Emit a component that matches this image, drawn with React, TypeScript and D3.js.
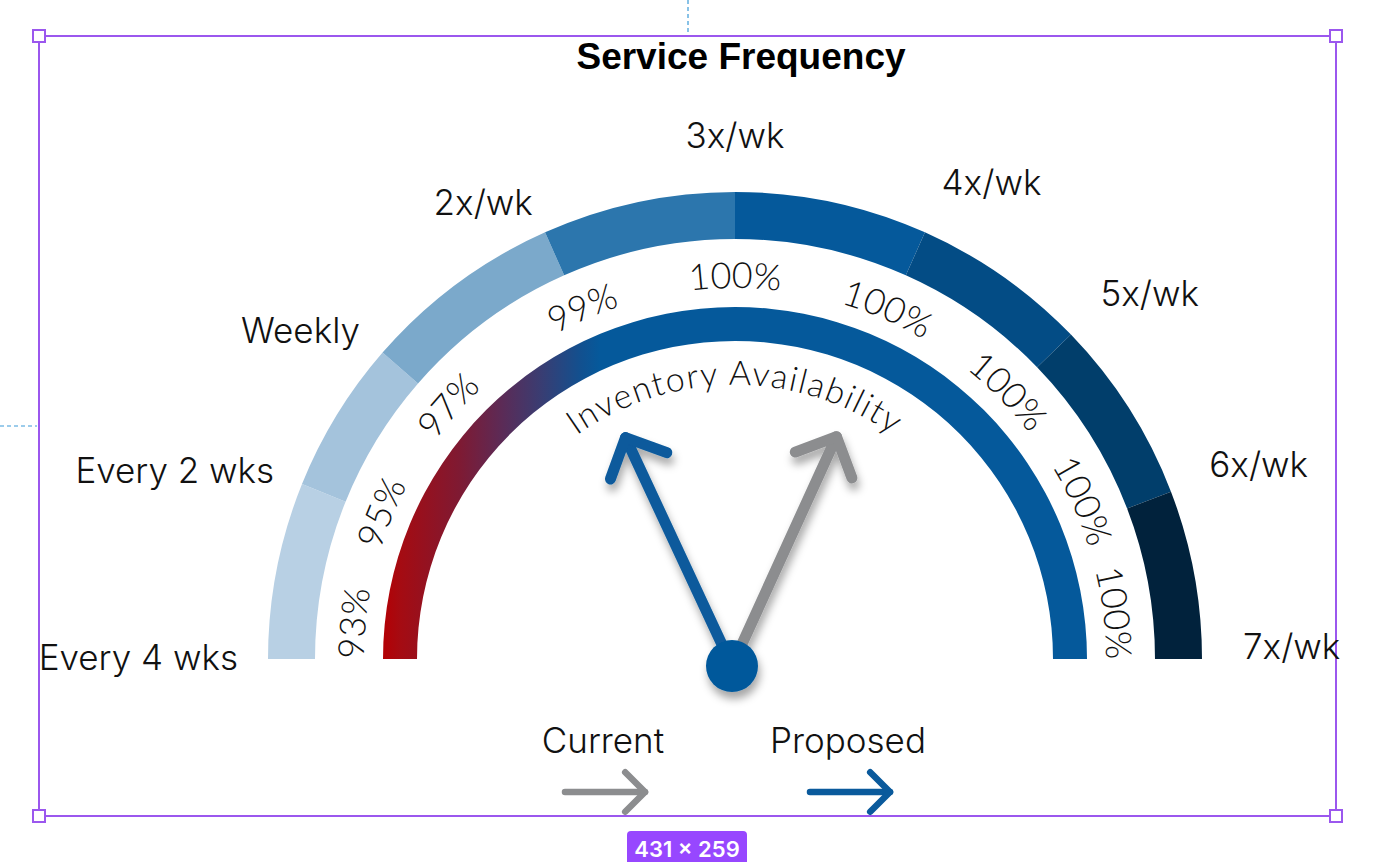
import React from 'react';
import * as d3 from 'd3';

// ---------- data ----------
const chartTitle = 'Service Frequency';
const innerTitle = 'Inventory Availability';
const frequencyLabels = ['Every 4 wks', 'Every 2 wks', 'Weekly', '2x/wk', '3x/wk', '4x/wk', '5x/wk', '6x/wk', '7x/wk'];
// gauge position (0 = left end, 180 = right end) of each frequency tick
const frequencyStops = [0, 22, 41, 66, 90, 114, 136, 159, 180];
const segmentColors = ['#b8d0e4', '#a4c3dc', '#7ba9cb', '#2c76ad', '#05599b', '#034c85', '#013e6b', '#01223c'];
const availabilityLabels = ['93%', '95%', '97%', '99%', '100%', '100%', '100%', '100%', '100%'];
// gauge position of each availability label
const availabilityStops = [0, 22.5, 41.5, 66.5, 90, 113.5, 135.5, 155.5, 180];
const needleNames = ['Current', 'Proposed'];
const needlePositions = [114.5, 65];
const needleColors = ['#8c8d8f', '#0a5a9c'];
const badgeText = '431 × 259';

// ---------- layout ----------
const W = 1382;
const H = 862;
const cx = 735;
const cy = 659;
const outerR0 = 420;
const outerR1 = 467;
const innerR0 = 318;
const innerR1 = 352;
const pctR = 371;
const innerTitleR = 274;
const labelRLeft = 497;
const labelRRight = 508;
const labelRTop = 511;
const hub = { x: cx - 3, y: cy + 7, r: 26 };
const needleLen = 252;
const headLen = 44;
const frame = { x0: 39, y0: 36, x1: 1336, y1: 816 };
const purple = '#9b57ee';
const guide = '#3a9ad8';

const angle = d3.scaleLinear().domain([0, 180]).range([-Math.PI / 2, Math.PI / 2]);
const deg = d3.scaleLinear().domain([0, 180]).range([0, Math.PI]);

function polar(pos: number, r: number, ox = cx, oy = cy) {
  const a = deg(pos);
  return { x: ox - r * Math.cos(a), y: oy - r * Math.sin(a) };
}

function halfCirclePath(r: number) {
  const p = d3.path();
  p.arc(cx, cy, r, Math.PI, 2 * Math.PI, false);
  return p.toString();
}

function arrowPaths(x0: number, y0: number, x1: number, y1: number, head: number) {
  const dx = x1 - x0;
  const dy = y1 - y0;
  const len = Math.hypot(dx, dy);
  const ux = dx / len;
  const uy = dy / len;
  const rot = (a: number) => ({
    x: x1 - head * (ux * Math.cos(a) - uy * Math.sin(a)),
    y: y1 - head * (ux * Math.sin(a) + uy * Math.cos(a)),
  });
  const a1 = rot(Math.PI / 4);
  const a2 = rot(-Math.PI / 4);
  return {
    shaft: `M${x0},${y0}L${x1},${y1}`,
    head: `M${a1.x},${a1.y}L${x1},${y1}L${a2.x},${a2.y}`,
  };
}

export default function App() {
  const segArc = d3.arc<any>().innerRadius(outerR0).outerRadius(outerR1);
  const segments = segmentColors.map((c, i) => ({
    d: segArc({ startAngle: angle(frequencyStops[i]), endAngle: angle(frequencyStops[i + 1]) }) as string,
    c,
  }));
  const innerArc = d3.arc<any>().innerRadius(innerR0).outerRadius(innerR1)({
    startAngle: angle(0),
    endAngle: angle(180),
  }) as string;

  const sansFont = 'Inter, "Noto Sans", sans-serif';
  const titleFont = '"Liberation Sans", Arial, sans-serif';
  const lightFont = 'Lato, "Open Sans", sans-serif';

  const handle = (x: number, y: number, k: string) => (
    <rect key={k} x={x - 6} y={y - 6} width={12} height={12} fill="#fff" stroke={purple} strokeWidth={2} />
  );

  return (
    <svg width={W} height={H} style={{ position: 'absolute', left: 0, top: 0, background: '#fff' }}>
      <defs>
        <linearGradient id="availGrad" gradientUnits="userSpaceOnUse" x1={-innerR1} y1={0} x2={-135} y2={0}>
          <stop offset="0" stopColor="#b40004" />
          <stop offset="0.08" stopColor="#a50b12" />
          <stop offset="0.355" stopColor="#7e1a33" />
          <stop offset="0.54" stopColor="#5d2a55" />
          <stop offset="0.72" stopColor="#3b3c71" />
          <stop offset="0.91" stopColor="#12508f" />
          <stop offset="1" stopColor="#05599b" />
        </linearGradient>
        <filter id="shadow" x="-50%" y="-50%" width="200%" height="200%">
          <feDropShadow dx="2" dy="7" stdDeviation="4" floodColor="#000" floodOpacity="0.35" />
        </filter>
        <path id="pctPath" d={halfCirclePath(pctR)} />
        <path id="titlePath" d={halfCirclePath(innerTitleR)} />
      </defs>

      {/* guides & frame */}
      <line x1={688} y1={0} x2={688} y2={frame.y0 - 2} stroke={guide} strokeWidth={1.2} strokeDasharray="4 3" />
      <line x1={0} y1={426} x2={frame.x0 - 2} y2={426} stroke={guide} strokeWidth={1.2} strokeDasharray="4 3" />
      <rect x={frame.x0} y={frame.y0} width={frame.x1 - frame.x0} height={frame.y1 - frame.y0} fill="none" stroke={purple} strokeWidth={2} />

      {/* title */}
      <text x={741} y={69} textAnchor="middle" fontFamily={titleFont} fontWeight={700} fontSize={37} fill="#000">
        {chartTitle}
      </text>

      {/* outer frequency ring + inner availability ring */}
      <g transform={`translate(${cx},${cy})`}>
        {segments.map((s, i) => (
          <path key={i} d={s.d} fill={s.c} />
        ))}
        <path d={innerArc} fill="url(#availGrad)" />
      </g>

      {/* frequency labels */}
      {frequencyLabels.map((t, i) => {
        const pos = frequencyStops[i];
        if (pos < 90) {
          const p = polar(pos, labelRLeft);
          return (
            <text key={i} x={p.x} y={p.y} dy="0.3em" textAnchor="end" fontFamily={sansFont} fontWeight={300} fontSize={35} fill="#111">
              {t}
            </text>
          );
        }
        const p = polar(pos, pos > 90 ? labelRRight : labelRTop);
        return (
          <text key={i} x={p.x} y={p.y} textAnchor={pos > 90 ? 'start' : 'middle'} fontFamily={sansFont} fontWeight={300} fontSize={35} fill="#111">
            {t}
          </text>
        );
      })}

      {/* availability labels along arc */}
      {availabilityLabels.map((t, i) => {
        const pos = availabilityStops[i];
        const anchor = i === 0 ? 'start' : i === availabilityLabels.length - 1 ? 'end' : 'middle';
        const off = pctR * deg(pos);
        return (
          <text key={i} fontFamily={lightFont} fontWeight={300} fontSize={36} fill="#111">
            <textPath href="#pctPath" startOffset={off} textAnchor={anchor}>
              {t}
            </textPath>
          </text>
        );
      })}

      <text fontFamily={lightFont} fontWeight={300} fontSize={34} fill="#111" letterSpacing={1.6}>
        <textPath href="#titlePath" startOffset="50%" textAnchor="middle">
          {innerTitle}
        </textPath>
      </text>

      {/* needles */}
      <g filter="url(#shadow)">
        {needlePositions.map((pos, i) => {
          const tip = polar(pos, needleLen, hub.x, hub.y);
          const a = arrowPaths(hub.x, hub.y, tip.x, tip.y, headLen);
          return (
            <g key={i} stroke={needleColors[i]} strokeWidth={11} strokeLinecap="round" strokeLinejoin="round" fill="none">
              <path d={a.shaft} />
              <path d={a.head} />
            </g>
          );
        })}
        <circle cx={hub.x} cy={hub.y} r={hub.r} fill="#05599b" />
      </g>

      {/* legend */}
      {needleNames.map((n, i) => {
        const lx = i === 0 ? 603 : 848;
        const a = arrowPaths(lx - 38, 792, lx + 42, 792, 28);
        return (
          <g key={n}>
            <text x={lx} y={753} textAnchor="middle" fontFamily={sansFont} fontWeight={300} fontSize={35} fill="#111">
              {n}
            </text>
            <g stroke={needleColors[i]} strokeWidth={6.5} strokeLinecap="round" strokeLinejoin="round" fill="none">
              <path d={a.shaft} />
              <path d={a.head} />
            </g>
          </g>
        );
      })}

      {/* handles */}
      {handle(frame.x0, frame.y0, 'h1')}
      {handle(frame.x1, frame.y0, 'h2')}
      {handle(frame.x0, frame.y1, 'h3')}
      {handle(frame.x1, frame.y1, 'h4')}

      {/* size badge */}
      <rect x={627} y={831} width={120} height={34} rx={4} fill="#9747ff" />
      <text x={687} y={857} textAnchor="middle" fontFamily={sansFont} fontWeight={600} fontSize={22} fill="#fff">
        {badgeText}
      </text>
    </svg>
  );
}
